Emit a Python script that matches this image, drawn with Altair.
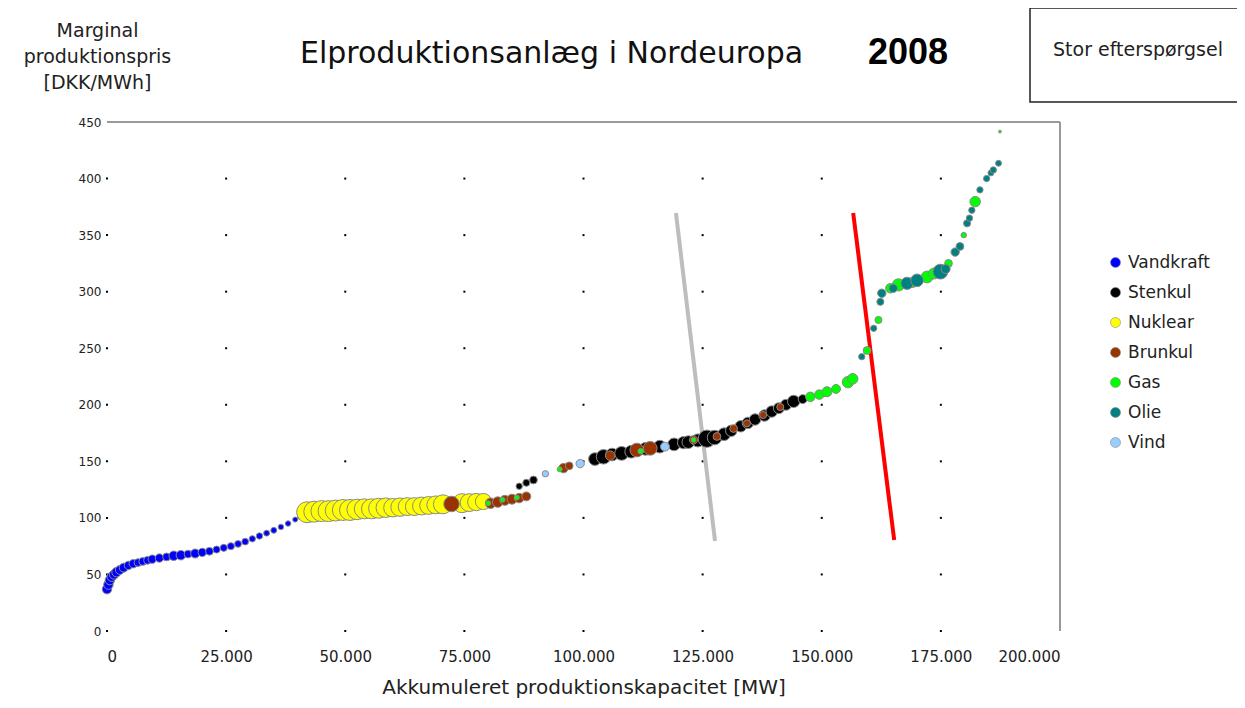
import altair as alt
import pandas as pd

# ---------------- data ----------------
tech_order = ["Vandkraft", "Stenkul", "Nuklear", "Brunkul", "Gas", "Olie", "Vind"]
tech_colors = ["#0000FF", "#000000", "#FFFF00", "#993300", "#00FF00", "#008080", "#99CCFF"]

vand_x = [0, 300, 600, 1000, 1500, 2000, 2700, 3500, 4500, 5500, 6500, 7500, 8500, 9500, 11000,
          12500, 14000, 15500, 17000, 18500, 20000, 21500, 23000, 24500, 26000, 27500, 29000,
          30500, 32000, 33500, 35000, 36500, 38000, 39500, 40500]
vand_y = [37, 41, 45, 48, 50, 52, 54, 56, 58, 59.5, 60.5, 61.5, 62.5, 63.5, 64.5, 65.5, 66.5, 67,
          68, 68.5, 69.5, 70.5, 72, 73.5, 75, 77, 79, 81.5, 84, 86.5, 89, 92, 95, 98.5, 101]
vand_s = [90, 90, 90, 90, 90, 90, 80, 80, 70, 70, 60, 60, 60, 70, 70, 60, 90, 90, 60, 80, 70, 60,
          50, 50, 50, 45, 45, 40, 40, 35, 35, 30, 30, 25, 25]

nuk_x = [42000, 43500, 45000, 46500, 48000, 49500, 51000, 52500, 54000, 55500, 57000, 58500, 60000,
         61500, 63000, 64500, 66000, 67500, 69000, 70500, 74500, 76000, 77500, 79000]
nuk_y = [105, 105.5, 106, 106, 106.5, 107, 107, 107.5, 108, 108, 108.5, 109, 109, 109.5, 110, 110,
         110.5, 111, 111.5, 112, 113, 113.5, 114, 114.5]
nuk_s = [440, 440, 440, 440, 440, 440, 440, 420, 400, 400, 400, 380, 340, 340, 320, 320, 320, 320,
         320, 360, 360, 320, 300, 260]

sten_x = [86500, 88000, 89500, 102400, 104200, 106000, 108000, 110000, 113000, 116000, 119000,
          121000, 122000, 124000, 125900, 127500, 129500, 131000, 133000, 134500, 136000, 138000,
          139500, 141000, 142500, 144100, 146000, 150500]
sten_y = [128, 131, 133.5, 152, 154, 156, 157, 158.5, 161, 163, 165, 166.5, 167, 168.5, 170, 171,
          174, 177, 181, 184, 187, 190.5, 194, 197, 200, 203, 205, 210]
sten_s = [40, 50, 60, 160, 210, 160, 190, 160, 160, 160, 160, 150, 160, 170, 300, 210, 160, 130,
          130, 130, 130, 130, 130, 120, 120, 150, 80, 40]

brun_x = [72300, 80500, 82000, 83500, 85000, 86500, 88000, 95800, 97000, 105600, 111200, 114000,
          123100, 128000, 131500, 134300, 137700, 141300]
brun_y = [112.3, 113, 114, 115.5, 116.5, 117.5, 119, 144, 146, 155, 160, 161.5, 169, 172, 179,
          183.6, 191, 198]
brun_s = [240, 110, 110, 100, 100, 90, 80, 90, 60, 90, 190, 190, 70, 60, 60, 50, 50, 50]

gas_x = [80000, 83000, 86000, 95000, 112000, 123100, 147600, 149500, 151100, 153000, 155500,
         156500, 159500, 161900, 164400, 166100, 169000, 172100, 173500, 176600, 179800, 182200,
         187400]
gas_y = [113, 116, 118, 143, 159, 169, 207, 209, 211.5, 214, 220, 223, 248, 275, 303, 306, 308,
         313, 316, 325, 350, 379.6, 441.5]
gas_s = [25, 25, 25, 25, 30, 25, 90, 90, 100, 80, 130, 110, 60, 50, 90, 150, 100, 140, 120, 60,
         30, 110, 8]

olie_x = [158400, 160900, 162300, 162600, 165000, 167900, 170000, 174900, 176000, 178000, 179000,
          180500, 181000, 181500, 183200, 184600, 185500, 186000, 187100]
olie_y = [242.5, 267.6, 291, 298.6, 303, 307.4, 310, 317.7, 320, 335, 340, 360.4, 365, 372, 390,
          400, 405, 407.6, 413.5]
olie_s = [40, 40, 50, 70, 70, 150, 160, 220, 80, 70, 60, 50, 40, 40, 40, 40, 35, 40, 35]

vind_x = [92000, 99300, 117100]
vind_y = [139, 148, 163]
vind_s = [40, 70, 80]

# demand curves (normal demand = grey, high demand = red)
lav_x = [119400, 127600]
lav_y = [369.6, 79.6]
stor_x = [156600, 165200]
stor_y = [369.6, 80.5]

x_ticks = [0, 25000, 50000, 75000, 100000, 125000, 150000, 175000, 200000]
y_ticks = [0, 50, 100, 150, 200, 250, 300, 350, 400, 450]

title_text = "Elproduktionsanlæg i Nordeuropa"
year_text = "2008"
box_text = "Stor efterspørgsel"
x_title = "Akkumuleret produktionskapacitet [MW]"
y_title = ["Marginal", "produktionspris", "[DKK/MWh]"]

# ---------------- build tables ----------------
series = [
    ("Vandkraft", vand_x, vand_y, vand_s),
    ("Nuklear", nuk_x, nuk_y, nuk_s),
    ("Stenkul", sten_x, sten_y, sten_s),
    ("Brunkul", brun_x, brun_y, brun_s),
    ("Gas", gas_x, gas_y, gas_s),
    ("Olie", olie_x, olie_y, olie_s),
    ("Vind", vind_x, vind_y, vind_s),
]
rows = []
for name, xs, ys, ss in series:
    for a, b, c in zip(xs, ys, ss):
        rows.append({"cap": a, "pris": b, "s": c, "tech": name})
pts = pd.DataFrame(rows)

grid = pd.DataFrame([{"gx": gx, "gy": gy} for gx in x_ticks[:-1] for gy in y_ticks[:-1]])
lav = pd.DataFrame({"cap": lav_x, "pris": lav_y})
stor = pd.DataFrame({"cap": stor_x, "pris": stor_y})

FONT = "DejaVu Sans"
W, H = 953, 509

xscale = alt.Scale(domain=[0, 200000], nice=False, zero=True)
yscale = alt.Scale(domain=[0, 450], nice=False)

xaxis = alt.Axis(values=x_ticks, labelExpr="replace(format(datum.value, ','), ',', '.')",
                 title=x_title, domain=False, ticks=False, grid=False,
                 labelFont=FONT, labelFontSize=15, labelColor="#222", labelPadding=18,
                 titleFont=FONT, titleFontSize=20, titleFontWeight="normal", titleColor="#222",
                 titlePadding=13)
yaxis = alt.Axis(values=y_ticks, title=y_title, domain=False, ticks=False, grid=False,
                 labelFont=FONT, labelFontSize=12, labelColor="#222", labelPadding=6,
                 titleFont=FONT, titleFontSize=19, titleFontWeight="normal", titleColor="#222",
                 titleAngle=0, titleAlign="center", titleBaseline="top",
                 titleX=-10, titleY=-101, titleLineHeight=26)

dots = alt.Chart(grid).mark_square(size=4, color="#000", opacity=1).encode(
    x=alt.X("gx:Q", scale=xscale, axis=xaxis),
    y=alt.Y("gy:Q", scale=yscale, axis=yaxis),
)

border_top = alt.Chart(grid).mark_rule(color="#999", strokeWidth=1.2).encode(y=alt.datum(450))
border_right = alt.Chart(grid).mark_rule(color="#999", strokeWidth=1.2).encode(x=alt.datum(200000))

lav_line = alt.Chart(lav).mark_line(color="#BDBDBD", strokeWidth=4).encode(
    x=alt.X("cap:Q", scale=xscale), y=alt.Y("pris:Q", scale=yscale))
stor_line = alt.Chart(stor).mark_line(color="#FF0000", strokeWidth=4).encode(
    x=alt.X("cap:Q", scale=xscale), y=alt.Y("pris:Q", scale=yscale))

points = alt.Chart(pts).mark_circle(opacity=1, stroke="#8a8a8a", strokeWidth=1).encode(
    x=alt.X("cap:Q", scale=xscale),
    y=alt.Y("pris:Q", scale=yscale),
    size=alt.Size("s:Q", scale=None),
    color=alt.Color("tech:N", scale=alt.Scale(domain=tech_order, range=tech_colors),
                    legend=alt.Legend(title=None, orient="none", legendX=1000, legendY=132,
                                      symbolType="circle", symbolSize=100,
                                      symbolStrokeColor="#888", symbolStrokeWidth=0.6,
                                      labelFont=FONT, labelFontSize=17, labelColor="#222",
                                      rowPadding=12, labelOffset=4, labelLimit=300)),
)

ann = pd.DataFrame({"t": [title_text]})
title_mark = alt.Chart(ann).mark_text(text=title_text, font=FONT, fontSize=30, align="left",
                                      baseline="middle", color="#111").encode(
    x=alt.value(193), y=alt.value(-68))
year_mark = alt.Chart(ann).mark_text(text=year_text, font="Liberation Sans", fontSize=36,
                                     fontWeight="bold", align="center", baseline="middle",
                                     color="#000").encode(x=alt.value(801), y=alt.value(-69))
box_mark = alt.Chart(ann).mark_rect(fill="white", stroke="#222", strokeWidth=1.5).encode(
    x=alt.value(923), x2=alt.value(1200), y=alt.value(-114), y2=alt.value(-20))
box_text_mark = alt.Chart(ann).mark_text(text=box_text, font=FONT, fontSize=19, align="left",
                                         baseline="middle", color="#222").encode(
    x=alt.value(946), y=alt.value(-72))

chart = alt.layer(
    dots, border_top, border_right, lav_line, stor_line, points,
    title_mark, year_mark, box_mark, box_text_mark,
).properties(
    width=W, height=H,
    autosize=alt.AutoSizeParams(type="none"),
    padding={"left": 99, "top": 114, "right": 177, "bottom": 69},
    background="white",
).configure_view(stroke=None)

chart.save("out.html", embed_options={"renderer": "svg", "actions": False})
